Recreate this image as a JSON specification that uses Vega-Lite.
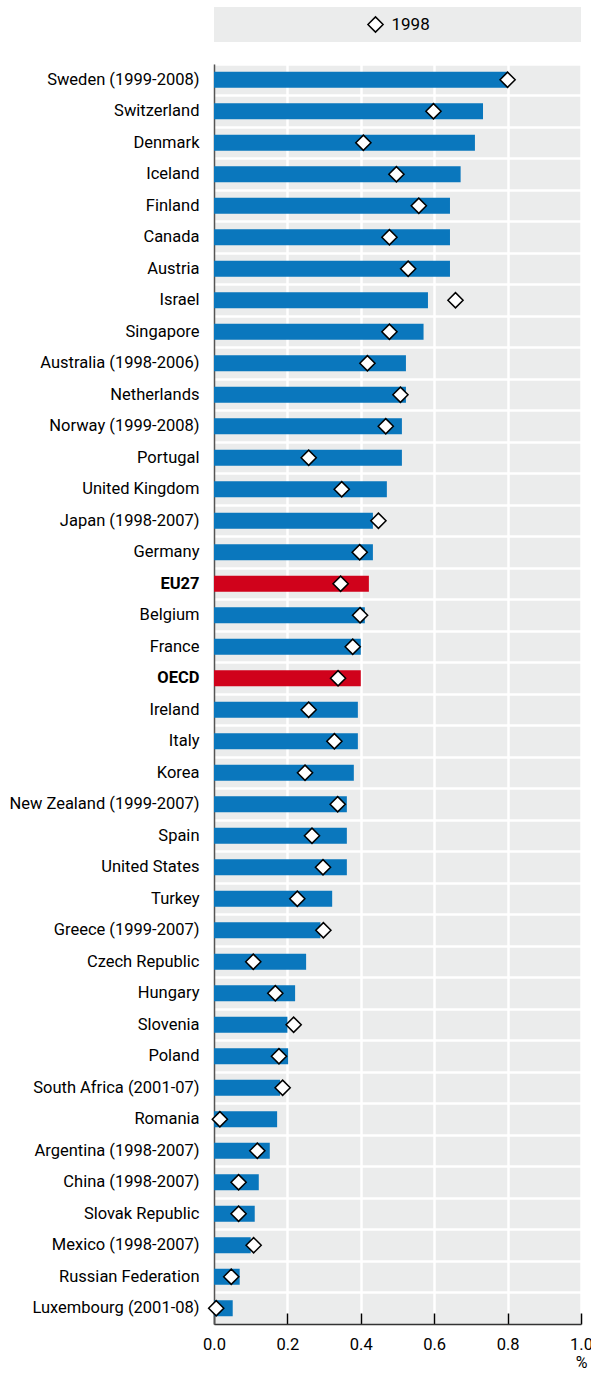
{
  "$schema": "https://vega.github.io/schema/vega-lite/v6.json",
  "padding": {"left": 8, "top": 7, "right": 0, "bottom": 5},
  "background": "white",
  "bounds": "flush",
  "spacing": 22,
  "config": {
    "view": {"fill": "#EBECEC", "stroke": null},
    "font": "Roboto",
    "axis": {"labelFont": "Roboto", "titleFont": "Roboto", "labelColor": "#000000", "titleColor": "#000000"}
  },
  "datasets": {
    "legend": [{"series": "1998"}],
    "main": [
      {"country": "Sweden (1999-2008)", "value": 0.80, "v1998": 0.80, "group": "country"},
      {"country": "Switzerland", "value": 0.733, "v1998": 0.598, "group": "country"},
      {"country": "Denmark", "value": 0.711, "v1998": 0.407, "group": "country"},
      {"country": "Iceland", "value": 0.672, "v1998": 0.497, "group": "country"},
      {"country": "Finland", "value": 0.643, "v1998": 0.558, "group": "country"},
      {"country": "Canada", "value": 0.643, "v1998": 0.478, "group": "country"},
      {"country": "Austria", "value": 0.643, "v1998": 0.529, "group": "country"},
      {"country": "Israel", "value": 0.583, "v1998": 0.658, "group": "country"},
      {"country": "Singapore", "value": 0.571, "v1998": 0.478, "group": "country"},
      {"country": "Australia (1998-2006)", "value": 0.523, "v1998": 0.418, "group": "country"},
      {"country": "Netherlands", "value": 0.523, "v1998": 0.508, "group": "country"},
      {"country": "Norway (1999-2008)", "value": 0.512, "v1998": 0.468, "group": "country"},
      {"country": "Portugal", "value": 0.512, "v1998": 0.258, "group": "country"},
      {"country": "United Kingdom", "value": 0.471, "v1998": 0.348, "group": "country"},
      {"country": "Japan (1998-2007)", "value": 0.433, "v1998": 0.448, "group": "country"},
      {"country": "Germany", "value": 0.433, "v1998": 0.397, "group": "country"},
      {"country": "EU27", "value": 0.422, "v1998": 0.345, "group": "aggregate"},
      {"country": "Belgium", "value": 0.411, "v1998": 0.398, "group": "country"},
      {"country": "France", "value": 0.40, "v1998": 0.378, "group": "country"},
      {"country": "OECD", "value": 0.40, "v1998": 0.338, "group": "aggregate"},
      {"country": "Ireland", "value": 0.392, "v1998": 0.258, "group": "country"},
      {"country": "Italy", "value": 0.392, "v1998": 0.328, "group": "country"},
      {"country": "Korea", "value": 0.381, "v1998": 0.248, "group": "country"},
      {"country": "New Zealand (1999-2007)", "value": 0.362, "v1998": 0.337, "group": "country"},
      {"country": "Spain", "value": 0.362, "v1998": 0.267, "group": "country"},
      {"country": "United States", "value": 0.362, "v1998": 0.297, "group": "country"},
      {"country": "Turkey", "value": 0.322, "v1998": 0.227, "group": "country"},
      {"country": "Greece (1999-2007)", "value": 0.29, "v1998": 0.298, "group": "country"},
      {"country": "Czech Republic", "value": 0.251, "v1998": 0.107, "group": "country"},
      {"country": "Hungary", "value": 0.221, "v1998": 0.167, "group": "country"},
      {"country": "Slovenia", "value": 0.20, "v1998": 0.217, "group": "country"},
      {"country": "Poland", "value": 0.202, "v1998": 0.177, "group": "country"},
      {"country": "South Africa (2001-07)", "value": 0.18, "v1998": 0.187, "group": "country"},
      {"country": "Romania", "value": 0.172, "v1998": 0.016, "group": "country"},
      {"country": "Argentina (1998-2007)", "value": 0.152, "v1998": 0.118, "group": "country"},
      {"country": "China (1998-2007)", "value": 0.122, "v1998": 0.067, "group": "country"},
      {"country": "Slovak Republic", "value": 0.111, "v1998": 0.067, "group": "country"},
      {"country": "Mexico (1998-2007)", "value": 0.10, "v1998": 0.108, "group": "country"},
      {"country": "Russian Federation", "value": 0.070, "v1998": 0.047, "group": "country"},
      {"country": "Luxembourg (2001-08)", "value": 0.051, "v1998": 0.006, "group": "country"}
    ]
  },
  "vconcat": [
    {
      "width": 367,
      "height": 35,
      "data": {"name": "legend"},
      "layer": [
        {
          "mark": {"type": "rect", "color": "#EBECEC"},
          "encoding": {"detail": {"field": "series", "type": "nominal"}}
        },
        {
          "mark": {"type": "point", "shape": "diamond", "filled": true, "fill": "white", "stroke": "black", "strokeWidth": 1.5, "size": 230, "opacity": 1, "xOffset": -22},
          "encoding": {"detail": {"field": "series", "type": "nominal"}}
        },
        {
          "mark": {"type": "text", "align": "left", "baseline": "middle", "dx": -6, "fontSize": 17, "font": "Roboto", "color": "#000000"},
          "encoding": {"text": {"field": "series", "type": "nominal"}}
        }
      ]
    },
    {
      "width": 367,
      "height": 1260,
      "data": {"name": "main"},
      "encoding": {
        "y": {
          "field": "country",
          "type": "nominal",
          "sort": null,
          "scale": {"paddingInner": 0, "paddingOuter": 0},
          "axis": {
            "title": null,
            "ticks": false,
            "bandPosition": 0,
            "labelPadding": 15,
            "labelFontSize": 16.5,
            "labelLimit": 0,
            "labelFontWeight": {"condition": {"test": "datum.value === 'EU27' || datum.value === 'OECD'", "value": "bold"}, "value": "normal"},
            "domainColor": "#555555",
            "domainWidth": 1.5,
            "grid": true,
            "gridColor": "white",
            "gridWidth": 2.5,
            "gridOpacity": 1
          }
        }
      },
      "layer": [
        {
          "mark": {"type": "bar", "size": 16},
          "encoding": {
            "x": {
              "field": "value",
              "type": "quantitative",
              "scale": {"domain": [0, 1], "nice": false},
              "axis": {
                "values": [0, 0.1, 0.2, 0.3, 0.4, 0.5, 0.6, 0.7, 0.8, 0.9, 1.0],
                "grid": true,
                "gridColor": {"condition": {"test": "datum.value === 0", "value": "transparent"}, "value": "white"},
                "gridWidth": 2.5,
                "gridOpacity": 1,
                "labelExpr": "round(datum.value * 10) % 2 === 1 ? '' : format(datum.value, '.1f')",
                "tickSize": -11,
                "tickWidth": 1.5,
                "tickColor": {"condition": {"test": "round(datum.value * 10) % 2 === 1", "value": "transparent"}, "value": "#000000"},
                "labelPadding": 23,
                "labelFontSize": 16.5,
                "labelFlush": false,
                "domainColor": "#333333",
                "domainWidth": 1.5,
                "title": "%",
                "titleAnchor": "end",
                "titleAlign": "center",
                "titleFontWeight": "normal",
                "titleFontSize": 16,
                "titlePadding": 2
              }
            },
            "color": {
              "field": "group",
              "type": "nominal",
              "scale": {"domain": ["country", "aggregate"], "range": ["#0A77BD", "#D0021B"]},
              "legend": null
            }
          }
        },
        {
          "mark": {"type": "point", "shape": "diamond", "filled": true, "fill": "white", "stroke": "black", "strokeWidth": 1.5, "size": 230, "opacity": 1},
          "encoding": {
            "x": {"field": "v1998", "type": "quantitative"}
          }
        }
      ]
    }
  ]
}
